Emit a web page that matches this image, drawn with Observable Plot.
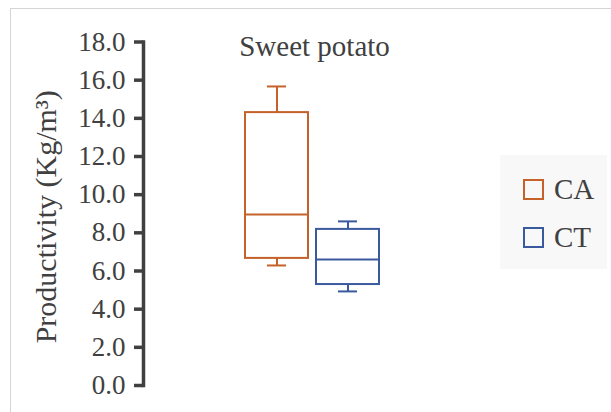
<!DOCTYPE html>
<html>
<head>
<meta charset="utf-8">
<script src="https://cdn.jsdelivr.net/npm/d3@7"></script>
<script src="https://cdn.jsdelivr.net/npm/@observablehq/plot@0.6"></script>
<style>
  html, body { margin: 0; padding: 0; background: #fff; }
  #wrap { position: relative; width: 611px; height: 412px; overflow: hidden; font-family: 'Liberation Serif', serif; }
  #border { position: absolute; left: 10px; top: 8px; right: -5px; bottom: -5px; border-top: 1.5px solid #d4d4d4; border-left: 1.5px solid #d4d4d4; }
  #chart { position: absolute; left: 0; top: 0; }
  #legend { position: absolute; left: 500px; top: 155px; width: 107px; height: 114px; background: #f8f8f8; }
  .item { position: absolute; left: 23px; display: flex; align-items: center; color: #404040; font-size: 29px; }
  .sw { width: 17px; height: 17px; border: 2px solid; margin-right: 10px; box-sizing: content-box; }
</style>
</head>
<body>
<div id="wrap">
  <div id="border"></div>
  <div id="chart"></div>
  <div id="legend"></div>
</div>
<script>
const categories = ["CA", "CT"];
const mins    = [6.29, 4.93];
const q1s     = [6.66, 5.29];
const medians = [8.96, 6.60];
const q3s     = [14.3, 8.18];
const maxs    = [15.67, 8.60];
const colors  = ["#C5622A", "#3A5A9E"];
const yTicks  = [0, 2, 4, 6, 8, 10, 12, 14, 16, 18];
const title   = "Sweet potato";
const yLabel  = "Productivity (Kg/m³)";

const data = categories.map((c, i) => ({
  cat: c, min: mins[i], q1: q1s[i], median: medians[i], q3: q3s[i], max: maxs[i], color: colors[i]
}));

const chart = Plot.plot({
  width: 611,
  height: 412,
  marginLeft: 143,
  marginRight: 0,
  marginTop: 41.5,
  marginBottom: 27,
  style: { fontFamily: "'Liberation Serif', serif", background: "transparent", overflow: "visible" },
  x: { type: "band", domain: categories, range: [245, 379], paddingInner: 0.113, paddingOuter: 0, axis: null },
  y: { domain: [0, 18], axis: null },
  marks: [
    Plot.frame({ anchor: "left", stroke: "#404040", strokeWidth: 3.5 }),
    Plot.axisY({ ticks: yTicks, tickFormat: d3.format(".1f"), tickSize: 9, tickPadding: 9,
                 stroke: "#404040", fill: "#404040", strokeWidth: 3.5, fontSize: 27, label: null }),
    Plot.text([yLabel], { frameAnchor: "left", dx: -97, dy: 3, rotate: -90, fontSize: 30, fill: "#404040",
                          textAnchor: "middle", lineAnchor: "middle" }),
    Plot.text([title], { frameAnchor: "top-left", dx: 171, dy: 14, fontSize: 29, fill: "#404040",
                         textAnchor: "middle", lineAnchor: "bottom" }),
    Plot.ruleX(data, { x: "cat", y1: "q3", y2: "max", stroke: "color", strokeWidth: 2 }),
    Plot.ruleX(data, { x: "cat", y1: "min", y2: "q1", stroke: "color", strokeWidth: 2 }),
    Plot.tickY(data, { x: "cat", y: "max", stroke: "color", strokeWidth: 2, insetLeft: 22, insetRight: 22 }),
    Plot.tickY(data, { x: "cat", y: "min", stroke: "color", strokeWidth: 2, insetLeft: 22, insetRight: 22 }),
    Plot.barY(data, { x: "cat", y1: "q1", y2: "q3", stroke: "color", fill: "none", strokeWidth: 2 }),
    Plot.tickY(data, { x: "cat", y: "median", stroke: "color", strokeWidth: 2 })
  ]
});
document.getElementById("chart").appendChild(chart);

const legend = document.getElementById("legend");
categories.forEach((c, i) => {
  const item = document.createElement("div");
  item.className = "item";
  item.style.top = (18 + i * 48) + "px";
  const sw = document.createElement("div");
  sw.className = "sw";
  sw.style.borderColor = colors[i];
  const lab = document.createElement("span");
  lab.textContent = c;
  item.appendChild(sw);
  item.appendChild(lab);
  legend.appendChild(item);
});
</script>
</body>
</html>
